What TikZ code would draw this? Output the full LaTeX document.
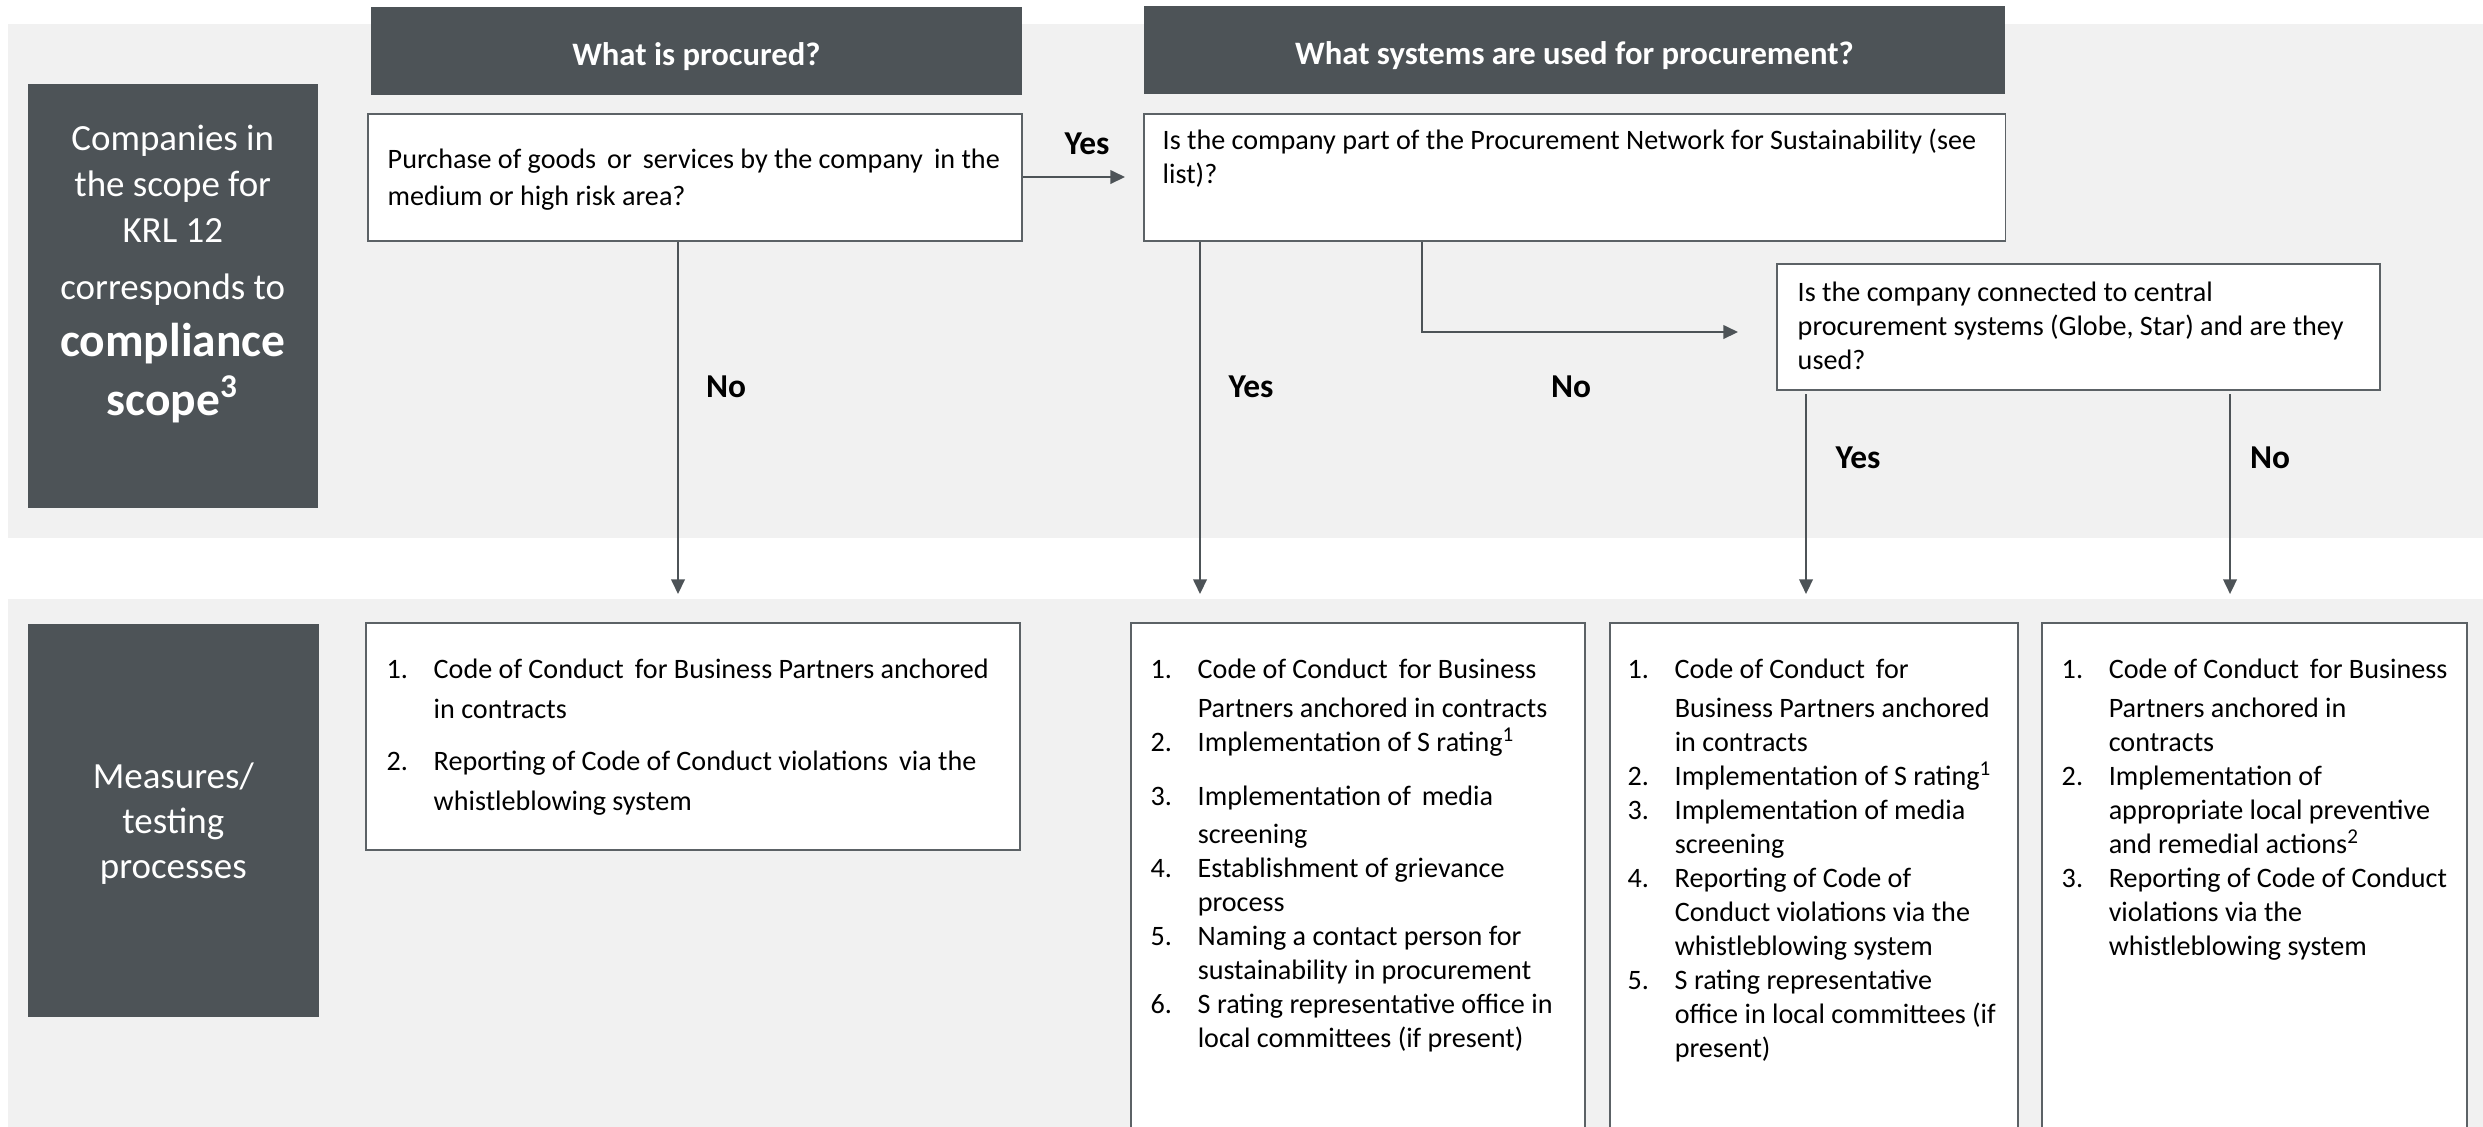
\documentclass[tikz,border=0pt]{standalone}
\usepackage{fontspec}
\setmainfont{Carlito}
\usetikzlibrary{arrows.meta,calc}
\definecolor{darkgray}{HTML}{4D5357}
\definecolor{bandgray}{HTML}{F1F1F1}
\definecolor{edgegray}{HTML}{5C6266}
\newdimen\pxu \pxu=0.01cm
\newcommand{\li}[2]{\makebox[0.47cm][l]{#1}#2}
\newcommand{\lc}[1]{\hspace*{0.47cm}#1}
\begin{document}
\begin{tikzpicture}[x=0.01cm,y=-0.01cm,
  bandbox/.style={fill=bandgray, draw=none, inner sep=0pt, anchor=north west},
  darkbox/.style={fill=darkgray, draw=none, text=white, inner sep=0pt, align=center, anchor=north west},
  qbox/.style={fill=white, draw=edgegray, line width=0.55pt, inner sep=0pt, anchor=north west},
  qtxt/.style={font=\fontsize{8}{9.7}\selectfont, align=left, inner sep=0pt},
  ltxt/.style={font=\fontsize{8}{9.67}\selectfont, align=left, inner sep=0pt, anchor=north west},
  hdr/.style={font=\fontsize{9.3}{11}\selectfont\bfseries, text=white, inner sep=0pt},
  lbl/.style={font=\fontsize{9.5}{11}\selectfont\bfseries, inner sep=0pt},
  conn/.style={draw=darkgray, line width=0.55pt},
  arr/.style={conn, -{Triangle[length=4.2pt,width=3.9pt]}},
]
\useasboundingbox (0,0) rectangle (2483,1126);
\clip (0,0) rectangle (2483,1126);

% background bands
\node[bandbox, minimum width=24.76cm, minimum height=5.14cm] (band1) at (7,23) {};
\node[bandbox, minimum width=24.76cm, minimum height=5.40cm] (band2) at (7,598) {};

% headers
\node[darkbox, minimum width=6.51cm, minimum height=0.88cm] (h1) at (370,6) {};
\node[hdr] (h1t) at ($(h1.center)+(0,6)$) {What is procured?};
\node[darkbox, minimum width=8.61cm, minimum height=0.88cm] (h2) at (1143,5) {};
\node[hdr] (h2t) at ($(h2.center)+(0,6)$) {What systems are used for procurement?};

% left labels
\node[darkbox, minimum width=2.90cm, minimum height=4.24cm] (left1) at (27,83) {};
\node[text=white, align=center, inner sep=0pt, font=\fontsize{10.5}{13.1}\selectfont] (left1t) at ($(left1.center)+(0,-22)$)
  {Companies in\\ the scope for\\ KRL 12\\[11\pxu] corresponds to\\[11\pxu] {\fontsize{13.5}{16}\selectfont\bfseries compliance}\\[8\pxu] {\fontsize{13.5}{16}\selectfont\bfseries scope\textsuperscript{3}}};
\node[darkbox, minimum width=2.91cm, minimum height=3.93cm] (left2) at (27,623) {};
\node[text=white, align=center, inner sep=0pt, font=\fontsize{10.5}{12.8}\selectfont] (left2t) at ($(left2.center)+(0,3)$) {Measures/\\ testing\\ processes};

% question boxes
\node[qbox, minimum width=6.54cm, minimum height=1.27cm] (q1) at (367,113) {};
\node[qtxt, anchor=west] (q1t) at ($(q1.west)+(20,2)$) {Purchase of goods\, or\, services by the company\, in the\\[3\pxu] medium or high risk area?};
\node[qbox, minimum width=8.61cm, minimum height=1.27cm] (q2) at (1143,113) {};
\node[qtxt, anchor=north west] (q2t) at ($(q2.north west)+(19,15)$) {Is the company part of the Procurement Network for Sustainability (see\\ list)?};
\node[qbox, minimum width=6.03cm, minimum height=1.26cm] (q3) at (1776,263) {};
\node[qtxt, anchor=west] (q3t) at ($(q3.west)+(21,-1)$) {Is the company connected to central\\ procurement systems (Globe, Star) and are they\\ used?};

% measure boxes
\node[qbox, minimum width=6.54cm, minimum height=2.27cm] (m1) at (365,622) {};
\node[qbox, minimum width=4.54cm, minimum height=5.3cm] (m2) at (1130,622) {};
\node[qbox, minimum width=4.08cm, minimum height=5.3cm] (m3) at (1609,622) {};
\node[qbox, minimum width=4.25cm, minimum height=5.3cm] (m4) at (2041,622) {};

\node[ltxt, font=\fontsize{8}{11.38}\selectfont] (m1t) at (386,658) {%
\li{1.}{Code of Conduct\, for Business Partners anchored}\\
\lc{in contracts}\\[12\pxu]
\li{2.}{Reporting of Code of Conduct violations\, via the}\\
\lc{whistleblowing system}};

\node[ltxt] (m2t) at (1150,658) {%
\li{1.}{Code of Conduct\, for Business}\\[5.5\pxu]
\lc{Partners anchored in contracts}\\
\li{2.}{Implementation of S rating\textsuperscript{1}}\\[20\pxu]
\li{3.}{Implementation of\, media}\\[4\pxu]
\lc{screening}\\
\li{4.}{Establishment of grievance}\\
\lc{process}\\
\li{5.}{Naming a contact person for}\\
\lc{sustainability in procurement}\\
\li{6.}{S rating representative office in}\\
\lc{local committees (if present)}};

\node[ltxt] (m3t) at (1627,658) {%
\li{1.}{Code of Conduct\, for}\\[5.5\pxu]
\lc{Business Partners anchored}\\
\lc{in contracts}\\
\li{2.}{Implementation of S rating\textsuperscript{1}}\\
\li{3.}{Implementation of media}\\
\lc{screening}\\
\li{4.}{Reporting of Code of}\\
\lc{Conduct violations via the}\\
\lc{whistleblowing system}\\
\li{5.}{S rating representative}\\
\lc{office in local committees (if}\\
\lc{present)}};

\node[ltxt] (m4t) at (2061,658) {%
\li{1.}{Code of Conduct\, for Business}\\[5.5\pxu]
\lc{Partners anchored in}\\
\lc{contracts}\\
\li{2.}{Implementation of}\\
\lc{appropriate local preventive}\\
\lc{and remedial actions\textsuperscript{2}}\\
\li{3.}{Reporting of Code of Conduct}\\
\lc{violations via the}\\
\lc{whistleblowing system}};

% connector anchor points
\coordinate (x1) at (678,594);
\coordinate (x2) at (1200,594);
\coordinate (x3) at (1422,332);
\coordinate (x4) at (1806,594);
\coordinate (x5) at (2230,594);
\coordinate (t2) at (1125,177);
\coordinate (t3) at (1738,332);

% connectors
\draw[arr] (q1.south -| x1) -- (x1);
\draw[arr] (q1.east |- t2) -- (t2);
\draw[arr] (q2.south -| x2) -- (x2);
\draw[arr] (q2.south -| x3) -- (x3) -- (t3);
\draw[arr] ($(q3.south -| x4)+(0,3)$) -- (x4);
\draw[arr] ($(q3.south -| x5)+(0,3)$) -- (x5);

% labels
\node[lbl] (yes1) at (1087,144) {Yes};
\node[lbl] (no1) at (726,387) {No};
\node[lbl] (yes2) at (1251,387) {Yes};
\node[lbl] (no2) at (1571,387) {No};
\node[lbl] (yes3) at (1858,458) {Yes};
\node[lbl] (no3) at (2270,458) {No};
\end{tikzpicture}
\end{document}
